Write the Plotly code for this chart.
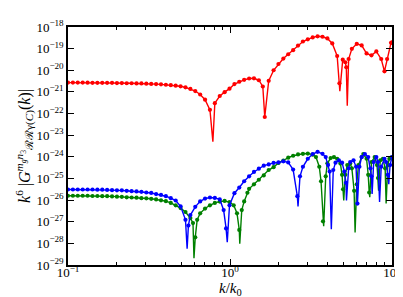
import plotly.graph_objects as go

# ---------------- data ----------------
# k / k0 positions and log10 of k^6 |G(k)| for the plotted (marked) samples
red_k = [0.1, 0.1072, 0.1149, 0.1232, 0.1321, 0.1416, 0.1518, 0.1627, 0.1744, 0.1870,
         0.2005, 0.2149, 0.2304, 0.2470, 0.2649, 0.2839, 0.3044, 0.3263, 0.3498, 0.3750,
         0.4020, 0.4310, 0.4621, 0.4954, 0.5311, 0.5693, 0.6104, 0.6543, 0.7015, 0.7520,
         0.8062, 0.8643, 0.9264, 0.9931, 1.065, 1.141, 1.223, 1.312, 1.406, 1.507,
         1.594, 1.639, 1.733, 1.858, 1.991, 2.135, 2.288, 2.453, 2.630, 2.819,
         3.022, 3.240, 3.473, 3.724, 3.992, 4.279, 4.587, 4.737, 4.966, 5.150,
         5.222, 5.399, 5.653, 6.060, 6.497, 6.965, 7.467, 8.005, 8.581, 8.985,
         9.329, 9.862, 10.0]
red_exp = [-20.57, -20.57, -20.57, -20.57, -20.575, -20.58, -20.58, -20.58, -20.58, -20.58,
           -20.59, -20.59, -20.60, -20.60, -20.61, -20.61, -20.62, -20.63, -20.64, -20.65,
           -20.67, -20.69, -20.71, -20.74, -20.79, -20.86, -20.96, -21.12, -21.36, -21.83,
           -21.52, -21.19, -21.01, -20.85, -20.64, -20.53, -20.44, -20.38, -20.37, -20.46,
           -20.75, -22.16, -20.49, -20.00, -19.71, -19.46, -19.26, -19.07, -18.86, -18.67,
           -18.57, -18.48, -18.43, -18.45, -18.53, -18.76, -19.34, -20.60, -19.51, -19.63,
           -19.86, -19.48, -19.01, -18.78, -18.85, -19.22, -19.31, -19.13, -19.48, -20.05,
           -19.48, -18.73, -18.71]
red_dip_k = [0.784, 4.764, 5.295]
red_dip_exp = [-23.30, -20.97, -21.64]

green_k = [0.1, 0.1072, 0.1149, 0.1232, 0.1321, 0.1416, 0.1518, 0.1627, 0.1744, 0.1870,
           0.2005, 0.2149, 0.2304, 0.2470, 0.2649, 0.2839, 0.3044, 0.3263, 0.3498, 0.3750,
           0.4020, 0.4310, 0.4621, 0.4954, 0.5311, 0.5693, 0.5909, 0.6104, 0.6272, 0.6543,
           0.7015, 0.7520, 0.8062, 0.8643, 0.9264, 0.9931, 1.054, 1.105, 1.141, 1.182,
           1.223, 1.281, 1.312, 1.406, 1.507, 1.616, 1.733, 1.858, 1.991, 2.135,
           2.288, 2.453, 2.630, 2.819, 3.022, 3.240, 3.393, 3.557, 3.647, 3.750,
           3.898, 3.992, 4.180, 4.383, 4.587, 4.804, 4.919, 4.988, 5.150, 5.295,
           5.521, 5.653, 5.837, 6.060, 6.205, 6.497, 6.653, 6.965, 7.131, 7.231,
           7.467, 7.818, 8.083, 8.195, 8.461, 8.785, 9.071, 9.419, 9.632, 10.0]
green_exp = [-25.80, -25.80, -25.80, -25.80, -25.80, -25.81, -25.81, -25.82, -25.82, -25.83,
             -25.84, -25.85, -25.87, -25.88, -25.89, -25.91, -25.92, -25.94, -25.97, -26.01,
             -26.05, -26.13, -26.24, -26.37, -26.55, -26.83, -27.06, -27.72, -26.91, -26.61,
             -26.39, -26.24, -26.13, -26.07, -26.04, -26.09, -26.24, -26.61, -27.38, -26.46,
             -26.06, -25.66, -25.48, -25.27, -25.06, -24.86, -24.61, -24.48, -24.28, -24.17,
             -24.04, -23.95, -23.89, -23.86, -23.85, -23.90, -24.01, -24.46, -25.13, -26.98,
             -24.90, -24.30, -24.06, -24.01, -24.09, -24.31, -24.83, -25.50, -24.83, -24.38,
             -24.31, -24.53, -25.57, -25.27, -24.38, -24.01, -23.87, -24.09, -24.83, -25.65,
             -24.24, -24.01, -24.38, -24.98, -24.16, -24.09, -24.53, -24.38, -24.09, -24.01]
green_dip_k = [0.5992, 1.149, 3.787, 5.036, 5.918, 7.292, 8.263, 9.199]
green_dip_exp = [-28.69, -28.02, -27.21, -26.02, -27.50, -25.87, -25.57, -26.16]

blue_k = [0.1, 0.1072, 0.1149, 0.1232, 0.1321, 0.1416, 0.1518, 0.1627, 0.1744, 0.1870,
          0.2005, 0.2149, 0.2304, 0.2470, 0.2649, 0.2839, 0.3044, 0.3263, 0.3498, 0.3750,
          0.4020, 0.4310, 0.4621, 0.4954, 0.5311, 0.5536, 0.5693, 0.6104, 0.6543, 0.7015,
          0.7520, 0.8062, 0.8643, 0.9136, 0.9458, 0.9931, 1.065, 1.141, 1.223, 1.312,
          1.406, 1.507, 1.616, 1.733, 1.858, 1.991, 2.135, 2.288, 2.453, 2.604,
          2.704, 2.819, 3.022, 3.240, 3.473, 3.724, 3.898, 4.030, 4.122, 4.340,
          4.481, 4.699, 4.919, 5.079, 5.200, 5.399, 5.521, 5.788, 6.001, 6.119,
          6.292, 6.497, 6.801, 7.131, 7.363, 7.467, 7.709, 8.005, 8.195, 8.581,
          8.985, 9.199, 9.419, 9.726, 10.0]
blue_exp = [-25.51, -25.51, -25.51, -25.51, -25.51, -25.51, -25.52, -25.52, -25.53, -25.54,
            -25.55, -25.55, -25.57, -25.59, -25.60, -25.62, -25.65, -25.67, -25.72, -25.76,
            -25.82, -25.91, -26.02, -26.29, -26.91, -27.18, -26.69, -26.31, -26.06, -25.93,
            -25.88, -25.90, -25.97, -26.46, -27.31, -26.24, -25.68, -25.42, -25.13, -24.90,
            -24.70, -24.55, -24.41, -24.35, -24.28, -24.26, -24.21, -24.26, -24.59, -25.82,
            -24.90, -24.46, -24.09, -23.87, -23.77, -23.86, -24.01, -24.38, -24.68, -24.61,
            -24.27, -24.16, -24.27, -24.68, -25.20, -24.53, -24.24, -24.16, -24.46, -26.16,
            -24.46, -24.01, -23.87, -24.01, -24.53, -24.90, -24.24, -24.01, -24.24, -24.46,
            -24.09, -24.24, -24.83, -24.38, -24.01]
blue_dip_k = [0.5436, 0.9618, 2.630, 4.221, 5.236, 7.539, 8.380, 9.552]
blue_dip_exp = [-28.25, -27.95, -26.29, -27.35, -26.02, -25.72, -26.09, -25.27]

x_tick_exponents = [-1, 0, 1]
y_tick_exponents = list(range(-29, -17))

series = [
    ("red", red_k, red_exp, red_dip_k, red_dip_exp, "#ff0000"),
    ("green", green_k, green_exp, green_dip_k, green_dip_exp, "#008000"),
    ("blue", blue_k, blue_exp, blue_dip_k, blue_dip_exp, "#0000ff"),
]

fig = go.Figure()
for name, ks, ex, dk, dex, col in series:
    pts = sorted(list(zip(ks, ex)) + list(zip(dk, dex)))
    lk = [p[0] for p in pts]
    lv = [10 ** p[1] for p in pts]
    fig.add_trace(go.Scatter(x=lk, y=lv, mode="lines", line=dict(color=col, width=1.4),
                             hoverinfo="skip", showlegend=False))
    fig.add_trace(go.Scatter(x=ks, y=[10 ** e for e in ex], mode="markers",
                             marker=dict(color=col, size=4.2, line=dict(width=0)),
                             showlegend=False, name=name))

font_family = "Liberation Serif, DejaVu Serif, serif"

def pow_label(e):
    s = str(e).replace("-", "\u2212")
    return "10<sup>" + s + "</sup>"

fig.update_layout(
    width=403, height=297,
    margin=dict(l=60, r=12, t=10, b=40),
    paper_bgcolor="white", plot_bgcolor="white",
    font=dict(family=font_family, size=13, color="black"),
    xaxis=dict(
        type="log", range=[-1, 1],
        tickvals=[10 ** e for e in x_tick_exponents],
        ticktext=[pow_label(e) for e in x_tick_exponents],
        tickfont=dict(size=13), ticklabelstandoff=-5,
        ticks="inside", ticklen=6, tickwidth=1, tickcolor="black",
        minor=dict(ticks="inside", ticklen=3, tickwidth=1, tickcolor="black",
                   tickvals=[m * 10 ** e for e in (-1, 0) for m in range(2, 10)]),
        showline=True, linecolor="black", linewidth=1.5, mirror="ticks",
        showgrid=False, zeroline=False,
    ),
    yaxis=dict(
        type="log", range=[-29, -18],
        tickvals=[10 ** e for e in y_tick_exponents],
        ticktext=[pow_label(e) for e in y_tick_exponents],
        tickfont=dict(size=13),
        ticks="inside", ticklen=6, tickwidth=1, tickcolor="black",
        showline=True, linecolor="black", linewidth=1.5, mirror="ticks",
        showgrid=False, zeroline=False,
        title=dict(text="<i>k</i><sup>6</sup> |<i>G</i><sup><i>m<sub>g</sub>n</i><sub>3</sub></sup><sub>\u211b\u211b\u03b3(<i>C</i>)</sub>(<i>k</i>)|",
                   font=dict(size=16), standoff=0),
    ),
    annotations=[dict(
        text="<i>k</i>/<i>k</i><sub>0</sub>", xref="paper", yref="paper",
        x=0.5, y=-0.1, xanchor="center", yanchor="middle", showarrow=False,
        font=dict(size=15),
    )],
)

fig.write_html("out.html")
